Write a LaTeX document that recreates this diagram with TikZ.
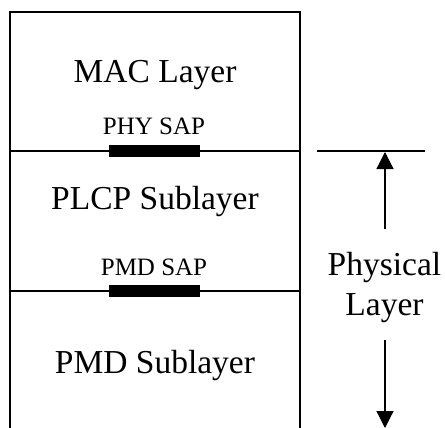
\documentclass[tikz,border=0pt]{standalone}
\usepackage{fontspec}
\setmainfont{Liberation Serif}
\usetikzlibrary{arrows.meta}
\tikzset{
  big/.style={inner sep=0pt, anchor=base, font=\fontsize{33.5}{36}\selectfont},
  small/.style={inner sep=0pt, anchor=base, font=\fontsize{25}{28}\selectfont},
  sapbar/.style={fill=black, draw=none, minimum width=91pt, minimum height=12pt, inner sep=0pt},
  frame/.style={line width=2.8pt},
  divider/.style={line width=2.3pt},
  dimarrow/.style={line width=1.2pt, -{Triangle[length=17pt,width=17pt]}}
}
\begin{document}
\begin{tikzpicture}[x=1pt,y=-1pt]
\useasboundingbox (0,0) rectangle (445,428);
% frame
\coordinate (bl) at (10,430);
\coordinate (tl) at (10,12);
\coordinate (tr) at (300,12);
\coordinate (br) at (300,430);
\draw[frame] (bl) -- (tl) -- (tr) -- (br);
% dividers
\coordinate (d1l) at (10,151);
\coordinate (d1r) at (300,151);
\coordinate (d2l) at (10,291);
\coordinate (d2r) at (300,291);
\draw[divider] (d1l) -- (d1r);
\draw[divider] (d2l) -- (d2r);
% SAP bars
\node[sapbar] (phybar) at (154.5,151) {};
\node[sapbar] (pmdbar) at (154.5,291) {};
% labels
\node[big] (mac) at (155,83) {MAC Layer};
\node[small] (physap) at (154,135) {PHY SAP};
\node[big] (plcp) at (155,209) {PLCP Sublayer};
\node[small] (pmdsap) at (154,275) {PMD SAP};
\node[big] (pmd) at (155,373) {PMD Sublayer};
\node[big] (phys) at (384.5,275) {Physical};
\node[big] (lay) at (384.5,315) {Layer};
% right marker
\coordinate (ml) at (317,151);
\coordinate (mr) at (425,151);
\draw[divider] (ml) -- (mr);
\coordinate (upstart) at (385,229);
\coordinate (uptip) at (385,152);
\draw[dimarrow] (upstart) -- (uptip);
\coordinate (dnstart) at (385,340);
\coordinate (dntip) at (385,428);
\draw[dimarrow] (dnstart) -- (dntip);
\end{tikzpicture}
\end{document}
